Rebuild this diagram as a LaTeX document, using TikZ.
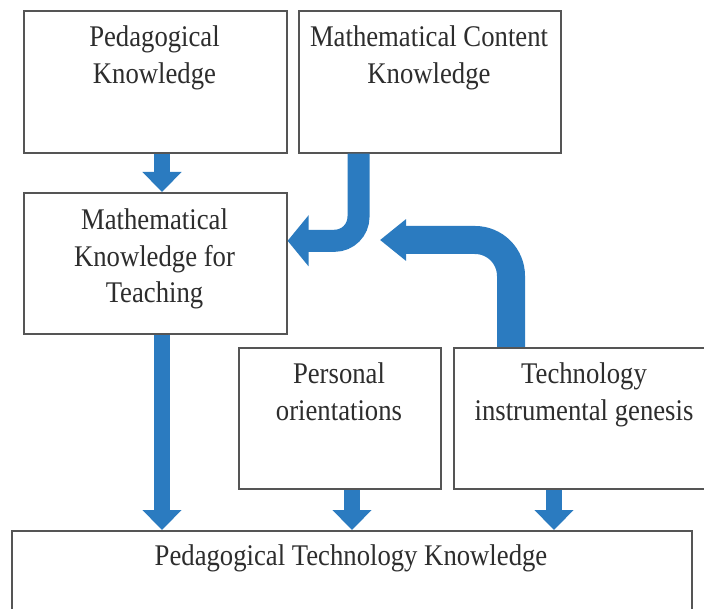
\documentclass[tikz,border=0pt]{standalone}
\usepackage{fontspec}
\setmainfont{Liberation Serif}[FakeStretch=0.89]
\usetikzlibrary{arrows.meta}
\definecolor{flowblue}{RGB}{43,123,192}
\definecolor{boxline}{RGB}{85,85,85}
\definecolor{txtcol}{RGB}{45,45,45}
\begin{document}
\begin{tikzpicture}[x=1pt,y=-1pt,
  box/.style={draw=boxline, line width=1.6pt, fill=white, inner sep=0pt, anchor=north west},
  txt/.style={text=txtcol, align=center, anchor=base, inner sep=0pt, font=\fontsize{30}{36.5}\selectfont},
  flow/.style={draw=flowblue, line width=16pt, -{Triangle[length=20pt,width=38pt]}},
  bendsmall/.style={draw=flowblue, line width=22pt, rounded corners=24pt, -{Triangle[length=21pt,width=50pt]}},
  bendbig/.style={draw=flowblue, line width=28pt, rounded corners=36pt, -{Triangle[length=26pt,width=40pt]}}
]
\useasboundingbox (0,0) rectangle (704,609);
\clip (0,0) rectangle (704,609);
\fill[white] (0,0) rectangle (704,609);

% boxes
\node[box, minimum width=263pt, minimum height=142pt] (pk)  at (23,10)  {};
\node[box, minimum width=262pt, minimum height=142pt] (mck) at (298,10) {};
\node[box, minimum width=263pt, minimum height=141pt] (mkt) at (23,192) {};
\node[box, minimum width=202pt, minimum height=141pt] (po)  at (238,347) {};
\node[box, minimum width=262pt, minimum height=141pt] (tig) at (453,347) {};
\node[box, minimum width=680pt, minimum height=100pt] (ptk) at (11,530) {};

% texts (anchor base = baseline of the last line)
\node[txt] (pkt)  at (154.5,83.5) {Pedagogical\\Knowledge};
\node[txt] (mckt) at (429,83.5)   {Mathematical Content\\Knowledge};
\node[txt] (mktt) at (154.5,303)  {Mathematical\\Knowledge for\\Teaching};
\node[txt] (pot)  at (339,420)    {Personal\\orientations};
\node[txt] (tigt) at (584,420)    {Technology\\instrumental genesis};
\node[txt] (ptkt) at (351,565)    {Pedagogical Technology Knowledge};

% straight arrows
\draw[flow] ([xshift=139pt]pk.south west) -- ([xshift=139pt]pk.south west |- mkt.north);
\draw[flow] ([xshift=139pt]mkt.south west) -- ([xshift=139pt]mkt.south west |- ptk.north);
\draw[flow] ([xshift=114pt]po.south west) -- ([xshift=114pt]po.south west |- ptk.north);
\draw[flow] ([xshift=101pt]tig.south west) -- ([xshift=101pt]tig.south west |- ptk.north);

% bent arrows
\draw[bendsmall] ([xshift=60.5pt]mck.south west) |- ([yshift=22.5pt]mkt.east);
\coordinate (techtip) at (380,240);
\draw[bendbig] ([xshift=58pt]tig.north west) |- (techtip);
\end{tikzpicture}
\end{document}
